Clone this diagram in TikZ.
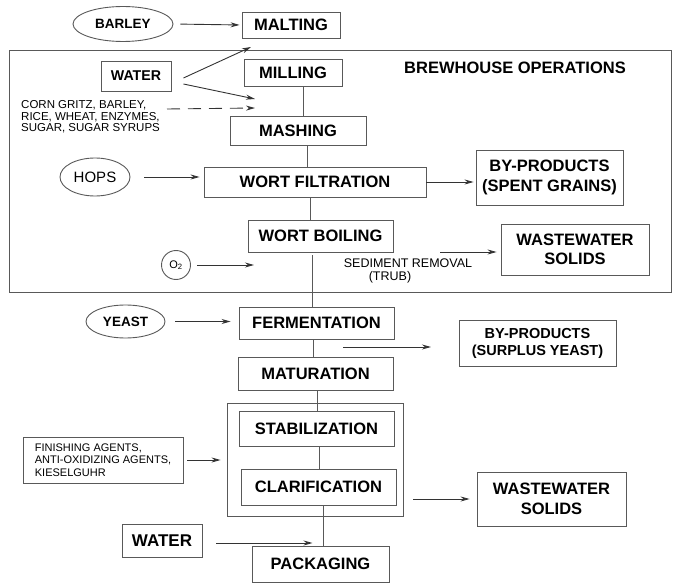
\documentclass[tikz,border=0pt]{standalone}
\usepackage{fontspec}
\setmainfont{Liberation Sans}
\usetikzlibrary{arrows.meta,shapes.geometric}

\definecolor{linegray}{gray}{0.35}
\newcommand{\bigbold}{\bfseries\fontsize{16.5}{19.5}\selectfont}
\newcommand{\smalltxt}{\fontsize{11.5}{11.5}\selectfont}

\tikzset{procbox/.style={draw=linegray, line width=0.9pt, inner sep=0pt, align=center, font=\bigbold}}
\tikzset{inoval/.style={draw=linegray, line width=0.9pt, ellipse, inner sep=0pt}}
\tikzset{flow/.style={draw=linegray, line width=0.9pt}}
\tikzset{arr/.style={draw=black!80, line width=0.9pt, -{Stealth[length=9pt,width=5pt]}}}

\begin{document}
\begin{tikzpicture}[x=1pt, y=-1pt]

\useasboundingbox (0,0) rectangle (673,583);

% brewhouse frame
\draw[flow] (9,50) rectangle (671,292);
\node[font=\bigbold] (brewhouse) at (515,68) {BREWHOUSE OPERATIONS};

% main process line
\node[procbox, minimum width=98pt, minimum height=26pt] (malting) at (291,25) {MALTING};
\node[procbox, minimum width=98pt, minimum height=27pt] (milling) at (293,72.5) {MILLING};
\node[procbox, minimum width=136pt, minimum height=29pt] (mashing) at (298,130.5) {MASHING};
\node[procbox, minimum width=222pt, minimum height=30pt] (wortfilt) at (315,182) {WORT FILTRATION};
\node[procbox, minimum width=145pt, minimum height=32pt] (boiling) at (320.5,236) {WORT BOILING};
\node[procbox, minimum width=155pt, minimum height=32pt] (ferment) at (316.5,323) {FERMENTATION};
\node[procbox, minimum width=155pt, minimum height=33pt] (matur) at (315.5,373.5) {MATURATION};
\node[flow, draw, minimum width=176pt, minimum height=113pt] (finbox) at (315,459.5) {};
\node[procbox, minimum width=155pt, minimum height=35pt] (stab) at (316.5,428.5) {STABILIZATION};
\node[procbox, minimum width=155pt, minimum height=36pt] (clar) at (318.5,487) {CLARIFICATION};
\node[procbox, minimum width=137pt, minimum height=36pt] (packaging) at (320.5,564) {PACKAGING};

% inputs
\node[inoval, minimum width=100pt, minimum height=35pt, font=\bfseries\fontsize{13.5}{15}\selectfont] (barley) at (123,24) {BARLEY};
\node[procbox, minimum width=70pt, minimum height=30pt, font=\bfseries\fontsize{14.2}{16}\selectfont] (water) at (136,76) {WATER};
\node[anchor=west, align=left, inner sep=0pt, font=\smalltxt] (adjuncts) at (21,117) {CORN GRITZ, BARLEY,\\RICE, WHEAT, ENZYMES,\\SUGAR, SUGAR SYRUPS};
\node[inoval, minimum width=70pt, minimum height=38pt, font=\fontsize{15}{17}\selectfont] (hops) at (95,177) {HOPS};
\node[draw=linegray, line width=0.9pt, circle, minimum size=29pt, inner sep=0pt, font=\fontsize{11}{12}\selectfont] (oxygen) at (176,265) {O\textsubscript{2}};
\node[inoval, minimum width=79pt, minimum height=33pt, font=\bfseries\fontsize{13.5}{15}\selectfont] (yeast) at (125.5,321.5) {YEAST};
\node[procbox, minimum width=160pt, minimum height=46pt, align=left, font=\fontsize{11}{12.5}\selectfont] (finishing) at (103,460) {FINISHING AGENTS,\\ANTI-OXIDIZING AGENTS,\\KIESELGUHR};
\node[procbox, minimum width=80pt, minimum height=33pt, font=\bfseries\fontsize{17}{19}\selectfont] (water2) at (162,540.5) {WATER};

% outputs
\node[procbox, minimum width=147pt, minimum height=55pt] (spent) at (549.5,177.5) {BY-PRODUCTS\\(SPENT GRAINS)};
\node[procbox, minimum width=148pt, minimum height=51pt] (waste1) at (575,249.5) {WASTEWATER\\SOLIDS};
\node[font=\fontsize{12.5}{14}\selectfont, inner sep=0pt] (sediment) at (408,263) {SEDIMENT REMOVAL};
\node[font=\fontsize{12.5}{14}\selectfont, inner sep=0pt] (trub) at (390,277) {(TRUB)};
\node[procbox, minimum width=157pt, minimum height=46pt, font=\bfseries\fontsize{14.5}{17}\selectfont] (surplus) at (537.5,343) {BY-PRODUCTS\\(SURPLUS YEAST)};
\node[procbox, minimum width=149pt, minimum height=54pt] (waste2) at (551.5,499) {WASTEWATER\\SOLIDS};

% free arrow ends
\coordinate (maltin) at (251,47);
\coordinate (mashin) at (255,99);
\coordinate (adjout) at (167,109);
\coordinate (adjin) at (255,108);
\coordinate (o2in) at (254,265);
\coordinate (trubout) at (440,252);
\coordinate (yeastout) at (343,347);
\coordinate (surplin) at (431,347);

% process connections
\draw[flow] ([xshift=10pt]milling.south) -- ([xshift=5pt]mashing.north);
\draw[flow] ([xshift=9pt]mashing.south) -- ([xshift=-8pt]wortfilt.north);
\draw[flow] ([xshift=-5pt]wortfilt.south) -- ([xshift=-10.5pt]boiling.north);
\draw[flow, shorten <=3pt] ([xshift=-8.5pt]boiling.south) -- ([xshift=-4.5pt]ferment.north);
\draw[flow] ([xshift=-3.5pt]ferment.south) -- ([xshift=-2.5pt]matur.north);
\draw[flow] ([xshift=1.5pt]matur.south) -- ([xshift=0.5pt]stab.north);
\draw[flow] ([xshift=2.5pt]stab.south) -- ([xshift=0.5pt]clar.north);
\draw[flow] ([xshift=4.5pt]clar.south) -- ([xshift=2.5pt]packaging.north);

% input arrows
\draw[arr, shorten <=7pt, shorten >=2pt] (barley.east) -- (malting.west);
\draw[arr] ([shift={(12,2)}]water.east) -- (maltin);
\draw[arr] ([shift={(12,8)}]water.east) -- (mashin);
\draw[arr, dash pattern=on 13pt off 8pt] (adjout) -- (adjin);
\draw[arr, shorten <=14pt, shorten >=4pt] (hops.east) -- (hops.east -| wortfilt.west);
\draw[arr, shorten <=6pt] (oxygen.east) -- (o2in);
\draw[arr, shorten <=10pt, shorten >=8pt] (yeast.east) -- (yeast.east -| ferment.west);
\draw[arr, shorten <=4pt, shorten >=6pt] (finishing.east) -- (finishing.east -| finbox.west);
\draw[arr, shorten <=14pt, shorten >=8pt] ([yshift=-2.5pt]water2.east) -- ([yshift=-2.5pt]water2.east -| packaging.north);

% output arrows
\draw[arr, shorten >=2pt] (wortfilt.east) -- (wortfilt.east -| spent.west);
\draw[arr, shorten >=4pt] (trubout) -- (trubout -| waste1.west);
\draw[arr] (yeastout) -- (surplin);
\draw[arr, shorten <=10pt, shorten >=7pt] (finbox.east |- waste2.west) -- (waste2.west);

\end{tikzpicture}
\end{document}
